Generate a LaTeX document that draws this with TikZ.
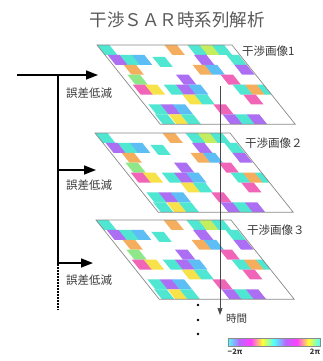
\documentclass[tikz,border=0pt]{standalone}
\usepackage{fontspec}
\newfontfamily\jpfont{Noto Sans CJK JP}
\usetikzlibrary{arrows.meta}

% tile palette
\definecolor{tcy}{HTML}{4FE6D2}
\definecolor{tpu}{HTML}{AC6EF2}
\definecolor{tlb}{HTML}{5DBDF5}
\definecolor{tor}{HTML}{F5AE5E}
\definecolor{tye}{HTML}{F8E24A}
\definecolor{tpk}{HTML}{F065B8}
\definecolor{tli}{HTML}{C4EE5E}
\definecolor{tlg}{HTML}{8EE88A}
\definecolor{edgegray}{HTML}{8A8A8A}
\definecolor{titlegray}{HTML}{5A5A5A}
\definecolor{labelgray}{HTML}{3A3A3A}
\definecolor{axisgray}{HTML}{4A4A4A}

\tikzset{
  planeedge/.style={draw=edgegray, line width=0.7pt, line join=miter},
  treeline/.style={line width=1.6pt, black},
  branch/.style={treeline, -{Triangle[length=12pt,width=9pt]}},
  treedots/.style={line width=1.6pt, black, dash pattern=on 1.6pt off 1.4pt},
  timeaxis/.style={draw=axisgray, line width=0.6pt, -{Triangle[length=7pt,width=5pt]}},
  titletext/.style={font=\jpfont\fontsize{17.5}{20}\selectfont, text=titlegray, inner sep=0pt},
  imgtext/.style={font=\jpfont\fontsize{11.5}{13}\selectfont, text=labelgray, inner sep=0pt, anchor=west},
  redtext/.style={font=\jpfont\fontsize{11.5}{13}\selectfont, text=labelgray, inner sep=0pt, anchor=west},
  cbtext/.style={font=\jpfont\bfseries\fontsize{7.5}{9}\selectfont, text=labelgray, inner sep=0pt},
  dot/.style={circle, fill=black, inner sep=0pt, minimum size=2.6pt},
}

% phase tiles of one interferogram: column / row / colour
\newcommand\tilelist{%
  0/0/tcy, 5/0/tor, 6.7/0/tcy, 7.6/0/tli, 8.5/0/tcy,
  0.2/1/tpu, 1.1/1/tcy, 2.0/1/tlb, 3.4/1.2/tcy, 6.6/1/tpu, 9.0/1/tcy,
  0.8/2/tor, 5.9/2/tor, 6.8/2/tlb, 9.0/2/tpu,
  0.5/3/tlg, 4.1/3/tpu, 7.4/3/tpk,
  0.3/4/tpk, 1.2/4/tye, 2.6/4/tcy, 3.5/4/tpu, 4.4/4/tlb, 7.7/4/tcy, 8.6/4/tor, 9.5/4/tcy,
  3.4/5/tye, 4.3/5/tcy, 7.9/5/tpk,
  0.3/6/tcy, 1.2/6/tpu, 2.1/6/tlb, 5.1/6/tpk,
  0.2/7/tcy, 1.2/7/tye, 2.1/7/tcy, 5.2/7/tpu, 6.1/7/tcy, 7.0/7/tpu}

% one sheared interferogram plane: #1,#2 top-left corner, #3 name
\newcommand\sarplane[3]{%
  \begin{scope}[shift={(#1,#2)}, x={(13.5pt,0pt)}, y={(7.9pt,-9.9pt)}]
    \fill[white] (0,0) -- (10,0) -- (10,8) -- (0,8) -- cycle;
    \begin{scope}
      \clip (0,0) -- (10,0) -- (10,8) -- (0,8) -- cycle;
      \foreach \tu/\tr/\tc in \tilelist {
        \fill[\tc] (\tu,\tr) -- ++(0.92,0) -- ++(0,1) -- ++(-0.92,0) -- cycle;
      }
    \end{scope}
    \draw[planeedge] (0,0) -- (10,0) -- (10,8) -- (0,8) -- cycle;
    \coordinate (#3-tl) at (0,0);
    \coordinate (#3-tr) at (10,0);
  \end{scope}}

\begin{document}
\begin{tikzpicture}[x=1pt, y=-1pt]
  \useasboundingbox (0,0) rectangle (322,361);
  \fill[white] (0,0) rectangle (322,361);

  % title
  \node[titletext] (title) at (177,20) {干渉ＳＡＲ時系列解析};

  % interferogram stack
  \sarplane{97}{45}{p1}
  \sarplane{95}{133}{p2}
  \sarplane{96}{220}{p3}

  \node[imgtext] (lab1) at (242,51) {干渉画像1};
  \node[imgtext] (lab2) at (245,143) {干渉画像２};
  \node[imgtext] (lab3) at (247,230) {干渉画像３};

  % time axis through the stack
  \coordinate (tstart) at (220,86);
  \coordinate (tend) at (220,315);
  \draw[timeaxis] (tstart) -- (tend);
  \node[redtext, font=\jpfont\fontsize{10.5}{12}\selectfont] (time) at (226,319) {時間};

  % continuation dots
  \node[dot] (d1) at (198,305) {};
  \node[dot] (d2) at (198,320) {};
  \node[dot] (d3) at (198,334) {};

  % error-reduction feedback tree
  \coordinate (src) at (17,75);
  \coordinate (j1) at (58,75);
  \coordinate (j2) at (58,170);
  \coordinate (j3) at (58,263);
  \coordinate (jend) at (58,310);
  \coordinate (in1) at (98,75);
  \coordinate (in2) at (96,170);
  \coordinate (in3) at (93,263);
  \draw[branch] (src) -- (in1);
  \draw[treeline, line cap=butt] ([yshift=-0.8pt]j1) -- ([yshift=0.8pt]j3);
  \draw[branch] ([xshift=-0.8pt]j2) -- (in2);
  \draw[branch] ([xshift=-0.8pt]j3) -- (in3);
  \draw[treedots] ([yshift=5pt]j3) -- (jend);

  \node[redtext] (r1) at (66,93) {誤差低減};
  \node[redtext] (r2) at (66,185) {誤差低減};
  \node[redtext] (r3) at (66,280) {誤差低減};

  % phase colour bar
  \coordinate (cbl) at (228,338);
  \coordinate (cbr) at (320,346);
  \foreach \i/\ca/\cb in {0/cyan!70!white/blue!45!magenta!60!white,
                          1/blue!45!magenta!60!white/magenta!75!white,
                          2/magenta!75!white/yellow!80!white,
                          3/yellow!80!white/cyan!70!white,
                          4/cyan!70!white/blue!45!magenta!60!white,
                          5/blue!45!magenta!60!white/magenta!75!white,
                          6/magenta!75!white/yellow!80!white,
                          7/yellow!80!white/cyan!70!white} {
    \shade[left color=\ca, right color=\cb]
      (228+11.5*\i,338) rectangle (228+11.5*\i+11.6,346);
  }
  \draw[edgegray, line width=0.5pt] (cbl) rectangle (cbr);
  \node[cbtext] (cbmin) at (235,352) {−2π};
  \node[cbtext] (cbmax) at (315,352) {2π};
\end{tikzpicture}
\end{document}
